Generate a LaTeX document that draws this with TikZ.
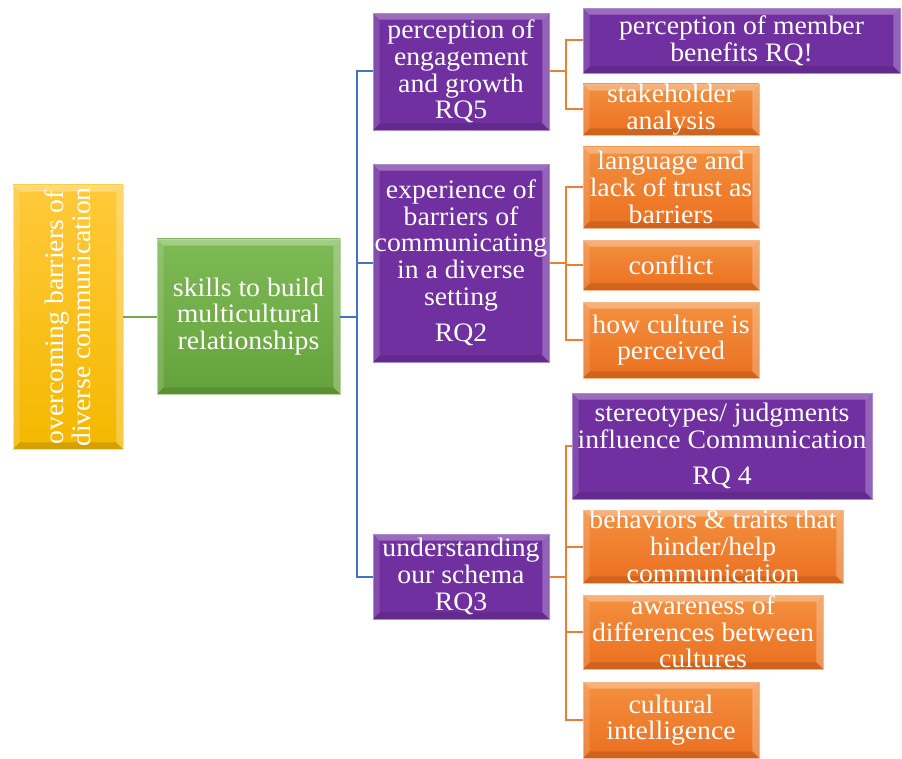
\documentclass[tikz,border=0pt]{standalone}
\usepackage{fontspec}
\setmainfont[FakeStretch=1.04]{Liberation Serif}
\usetikzlibrary{calc}
\definecolor{purp}{HTML}{7030A0}
\definecolor{purpb}{HTML}{B08AD0}
\definecolor{orgtop}{HTML}{F3903F}
\definecolor{orgbot}{HTML}{EB7020}
\definecolor{orgb}{HTML}{F8B88A}
\definecolor{grntop}{HTML}{7DB955}
\definecolor{grnbot}{HTML}{66A23C}
\definecolor{grnb}{HTML}{B5D89F}
\definecolor{yeltop}{HTML}{FFC93A}
\definecolor{yelbot}{HTML}{F4B800}
\definecolor{yelb}{HTML}{FFE28A}
\definecolor{lgreen}{HTML}{70AD47}
\definecolor{lblue}{HTML}{4472C4}
\definecolor{lorange}{HTML}{ED7D31}
\tikzset{
  x=0.75pt, y=-0.75pt,
  boxbase/.style={rectangle, draw, line width=0.6pt, outer sep=0pt, inner sep=0pt},
  bevel/.style={path picture={
    \fill[white,opacity=0.3] (path picture bounding box.north west) -- (path picture bounding box.north east)
      -- ([shift={(-5pt,-5pt)}]path picture bounding box.north east) -- ([shift={(5pt,-5pt)}]path picture bounding box.north west) -- cycle;
    \fill[white,opacity=0.14] (path picture bounding box.north west) -- ([shift={(5pt,-5pt)}]path picture bounding box.north west)
      -- ([shift={(5pt,5pt)}]path picture bounding box.south west) -- (path picture bounding box.south west) -- cycle;
    \fill[white,opacity=0.25] (path picture bounding box.north east) -- ([shift={(-5pt,-5pt)}]path picture bounding box.north east)
      -- ([shift={(-5pt,5pt)}]path picture bounding box.south east) -- (path picture bounding box.south east) -- cycle;
    \fill[black,opacity=0.12] (path picture bounding box.south west) -- ([shift={(5pt,5pt)}]path picture bounding box.south west)
      -- ([shift={(-5pt,5pt)}]path picture bounding box.south east) -- (path picture bounding box.south east) -- cycle;
  }},
  purplebox/.style={boxbase, bevel, fill=purp, draw=purpb},
  orangebox/.style={boxbase, bevel, top color=orgtop, bottom color=orgbot, draw=orgb},
  greenbox/.style={boxbase, bevel, top color=grntop, bottom color=grnbot, draw=grnb},
  yellowbox/.style={boxbase, bevel, top color=yeltop, bottom color=yelbot, draw=yelb},
  txt/.style={text=white, align=center, inner sep=0pt, font=\fontsize{20}{20}\selectfont},
  greenline/.style={draw=lgreen, line width=1.5pt},
  blueline/.style={draw=lblue, line width=1.5pt},
  orangeline/.style={draw=lorange, line width=1.5pt},
}
\newcommand\mkbox[7]{%
  \node[#2, anchor=north west, minimum width={(#5-#3)*0.75pt}, minimum height={(#6-#4)*0.75pt}] (#1) at (#3,#4) {};
  \node[txt] (#1-t) at (#1.center) {#7};
}
\begin{document}
\begin{tikzpicture}
\useasboundingbox (0,0) rectangle (902,759);
\coordinate (bx) at (357,0);
\coordinate (ox) at (566,0);
\mkbox{root}{yellowbox}{13}{185}{123}{449}{}
\node[txt, rotate=90] (root-r) at (root.center) {overcoming barriers of\\diverse communication};
\mkbox{green}{greenbox}{157}{239}{340}{394}{skills to build\\multicultural\\relationships}
\mkbox{rq5}{purplebox}{373}{13}{549}{130}{perception of\\engagement\\and growth\\RQ5}
\mkbox{rq2}{purplebox}{373}{164}{549}{362}{experience of\\barriers of\\communicating\\in a diverse\\setting\\[7.5pt]RQ2}
\mkbox{rq3}{purplebox}{373}{534}{549}{619}{understanding\\our schema\\RQ3}
\mkbox{c1}{purplebox}{583}{8}{900}{73}{perception of member\\benefits RQ!}
\mkbox{c2}{orangebox}{583}{84}{759}{135}{stakeholder\\analysis}
\mkbox{c3}{orangebox}{583}{147}{759}{228}{language and\\lack of trust as\\barriers}
\mkbox{c4}{orangebox}{583}{240}{759}{290}{conflict}
\mkbox{c5}{orangebox}{583}{302}{759}{378}{how culture is\\perceived}
\mkbox{c6}{purplebox}{572}{393}{872}{499}{stereotypes/ judgments\\influence Communication\\[7.5pt]RQ 4}
\mkbox{c7}{orangebox}{583}{510}{843}{583}{behaviors \& traits that\\hinder/help\\communication}
\mkbox{c8}{orangebox}{583}{595}{823}{669}{awareness of\\differences between\\cultures}
\mkbox{c9}{orangebox}{583}{682}{759}{758}{cultural\\intelligence}
% connectors
\draw[greenline] (root.east) -- (root.east -| green.west);
\coordinate (bj) at (green.east -| bx);
\draw[blueline] (green.east) -- (bj);
\draw[blueline] (bj) |- (rq5.west);
\draw[blueline] (bj) |- (rq2.west);
\draw[blueline] (bj) |- (rq3.west);
\foreach \p/\cs in {rq5/{c1,c2}, rq2/{c3,c4,c5}, rq3/{c6,c7,c8,c9}}{
  \draw[orangeline] (\p.east) -- (\p.east -| ox);
  \foreach \c in \cs {\draw[orangeline] (\p.east -| ox) |- (\c.west);}
}
\end{tikzpicture}
\end{document}
